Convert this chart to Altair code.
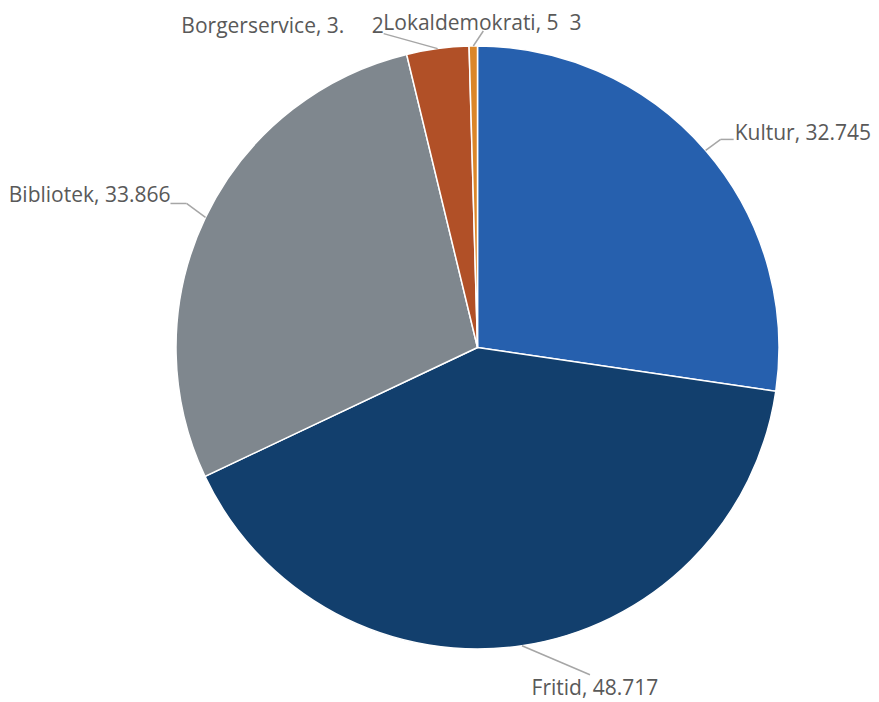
import altair as alt
import pandas as pd

NB = "\u00a0"

# ---- data ----
categories = ["Kultur", "Fritid", "Bibliotek", "Borgerservice", "Lokaldemokrati"]
values = [32.745, 48.717, 33.866, 3.992, 0.533]
labels = ["Kultur, 32.745", "Fritid, 48.717", "Bibliotek, 33.866",
          "Borgerservice, 3." + NB * 5 + "2", "Lokaldemokrati, 5" + NB * 2 + "3"]
colors = ["#2660AE", "#123F6D", "#7F878E", "#B15027", "#DB8629"]

# ---- label layout (leader end / elbow offsets from slice edge, text nudges) ----
lead_dx = [28, 68, -35, -54, 10]
lead_dy = [-11, 29, -14, -15, -15]
elbow_dx = [15, 68, -19, -54, 10]
elbow_dy = [-11, 29, -14, -15, -15]
text_dx = [1, 5, 0, 0, -100]
text_dy = [1, 20, -1, -1, -1]
text_align = ["left", "center", "right", "right", "left"]

df = pd.DataFrame({
    "category": categories, "value": values, "label": labels,
    "order": list(range(len(categories))),
    "ldx": lead_dx, "ldy": lead_dy, "kdx": elbow_dx, "kdy": elbow_dy,
    "tdx": text_dx, "tdy": text_dy, "align": text_align,
})

CX, CY, R = 469.5, 339.5, 301.5

base = alt.Chart(df)

pie = base.mark_arc(radius=R, stroke="white", strokeWidth=1.5).encode(
    theta=alt.Theta("value:Q", stack=True),
    order=alt.Order("order:Q"),
    color=alt.Color("category:N", scale=alt.Scale(domain=categories, range=colors), legend=None),
    x=alt.value(CX), y=alt.value(CY),
)

geo = base.transform_joinaggregate(total="sum(value)").transform_window(
    cum="sum(value)", sort=[alt.SortField("order")], frame=[None, 0]
).transform_calculate(
    mid="(datum.cum - datum.value/2)/datum.total*2*PI",
).transform_calculate(
    ax=f"{CX} + {R}*sin(datum.mid)",
    ay=f"{CY} - {R}*cos(datum.mid)",
).transform_calculate(
    kx="datum.ax + datum.kdx", ky="datum.ay + datum.kdy",
    ex="datum.ax + datum.ldx", ey="datum.ay + datum.ldy",
).transform_calculate(
    tx="datum.ex + datum.tdx", ty="datum.ey + datum.tdy",
)

lead1 = geo.mark_rule(color="#A6A6A6", strokeWidth=1.5).encode(
    x=alt.X("ax:Q", scale=None), y=alt.Y("ay:Q", scale=None),
    x2="kx:Q", y2="ky:Q",
)
lead2 = geo.mark_rule(color="#A6A6A6", strokeWidth=1.5).encode(
    x=alt.X("kx:Q", scale=None), y=alt.Y("ky:Q", scale=None),
    x2="ex:Q", y2="ey:Q",
)

texts = []
for a in ["left", "center", "right"]:
    texts.append(
        geo.transform_filter(alt.datum.align == a).mark_text(
            align=a, baseline="alphabetic", font="Open Sans", fontSize=21, color="#595959"
        ).encode(
            x=alt.X("tx:Q", scale=None), y=alt.Y("ty:Q", scale=None), text="label:N"
        )
    )

chart = alt.layer(pie, lead1, lead2, *texts).properties(
    width=863, height=694, autosize=alt.AutoSizeParams(type="none"), padding=0
).configure_view(stroke=None)

chart.save("out.html", embed_options={"renderer": "svg", "actions": False})
